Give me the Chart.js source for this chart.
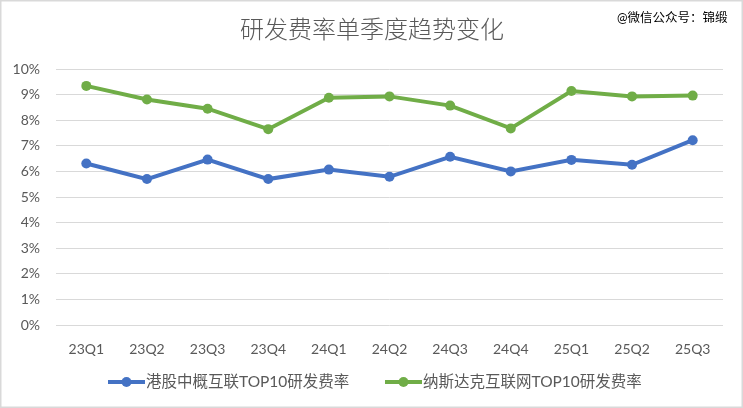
<!DOCTYPE html>
<html>
<head>
<meta charset="utf-8">
<script src="https://cdn.jsdelivr.net/npm/chart.js@4/dist/chart.umd.min.js"></script>
<style>
  html, body { margin: 0; padding: 0; background: #fff; }
  #wrap { width: 743px; height: 408px; }
</style>
</head>
<body>
<div id="wrap"><canvas id="chart" width="743" height="408"></canvas></div>
<script>
var quarters = ['23Q1','23Q2','23Q3','23Q4','24Q1','24Q2','24Q3','24Q4','25Q1','25Q2','25Q3'];
var hkRates = [6.31, 5.70, 6.46, 5.70, 6.07, 5.79, 6.57, 6.00, 6.45, 6.26, 7.22];
var nasdaqRates = [9.34, 8.81, 8.45, 7.65, 8.88, 8.93, 8.57, 7.68, 9.14, 8.93, 8.96];
var seriesNames = ['港股中概互联TOP10研发费率', '纳斯达克互联网TOP10研发费率'];
var titleText = '研发费率单季度趋势变化';
var markText = '@微信公众号：锦缎';

var FONT = 'Lato, "Noto Sans CJK SC", sans-serif';
var GREY = '#595959';

// frame, title, watermark and legend drawn around the plot
var decor = {
    id: 'decor',
    beforeDraw: function(chart){
        var ctx = chart.ctx;
        ctx.save();
        ctx.fillStyle = '#fff';
        ctx.fillRect(0, 0, chart.width, chart.height);
        ctx.strokeStyle = '#d9d9d9';
        ctx.lineWidth = 1.5;
        ctx.strokeRect(0.75, 0.75, chart.width - 1.5, chart.height - 1.5);
        ctx.restore();
    },
    afterDraw: function(chart){
        var ctx = chart.ctx;
        ctx.save();
        ctx.fillStyle = GREY;
        ctx.font = '300 24px ' + FONT;
        ctx.textAlign = 'center';
        ctx.textBaseline = 'middle';
        ctx.fillText(titleText, 372, 30);

        ctx.fillStyle = '#000';
        ctx.font = '12.5px ' + FONT;
        ctx.textAlign = 'left';
        ctx.fillText(markText, 617, 18);

        var items = [{x: 108, i: 0}, {x: 385, i: 1}];
        items.forEach(function(it){
            var ds = chart.data.datasets[it.i];
            var y = 382;
            ctx.strokeStyle = ds.borderColor;
            ctx.lineWidth = 4;
            ctx.beginPath();
            ctx.moveTo(it.x, y);
            ctx.lineTo(it.x + 37, y);
            ctx.stroke();
            ctx.fillStyle = ds.borderColor;
            ctx.beginPath();
            ctx.arc(it.x + 18.5, y, 5, 0, Math.PI * 2);
            ctx.fill();
            ctx.fillStyle = GREY;
            ctx.font = '15.5px ' + FONT;
            ctx.textBaseline = 'middle';
            ctx.fillText(seriesNames[it.i], it.x + 38, y);
        });
        ctx.restore();
    }
};

var ctx = document.getElementById('chart').getContext('2d');
var myChart = new Chart(ctx, {
    type: 'line',
    data: {
        labels: quarters,
        datasets: [{
            label: seriesNames[0],
            data: hkRates,
            borderColor: '#4472C4',
            backgroundColor: '#4472C4',
            borderWidth: 4,
            pointRadius: 5,
            pointBorderWidth: 0,
            tension: 0
        }, {
            label: seriesNames[1],
            data: nasdaqRates,
            borderColor: '#70AD47',
            backgroundColor: '#70AD47',
            borderWidth: 4,
            pointRadius: 5,
            pointBorderWidth: 0,
            tension: 0
        }]
    },
    options: {
        responsive: false,
        animation: false,
        layout: { padding: { top: 69, right: 20, bottom: 43, left: 0 } },
        plugins: {
            legend: { display: false },
            title: { display: false },
            tooltip: { enabled: false }
        },
        scales: {
            x: {
                offset: true,
                grid: { display: false, drawTicks: false },
                border: { display: false },
                ticks: { color: GREY, font: { family: FONT, size: 14 }, padding: 16 },
                afterFit: function(scale){ scale.height = 40; }
            },
            y: {
                min: 0,
                max: 10,
                ticks: {
                    stepSize: 1,
                    color: GREY,
                    font: { family: FONT, size: 14 },
                    padding: 16,
                    callback: function(v){ return v + '%'; }
                },
                grid: { color: '#d9d9d9', lineWidth: 1, drawTicks: false },
                border: { display: false },
                afterFit: function(scale){ scale.width = 56; }
            }
        }
    },
    plugins: [decor]
});
</script>
</body>
</html>
